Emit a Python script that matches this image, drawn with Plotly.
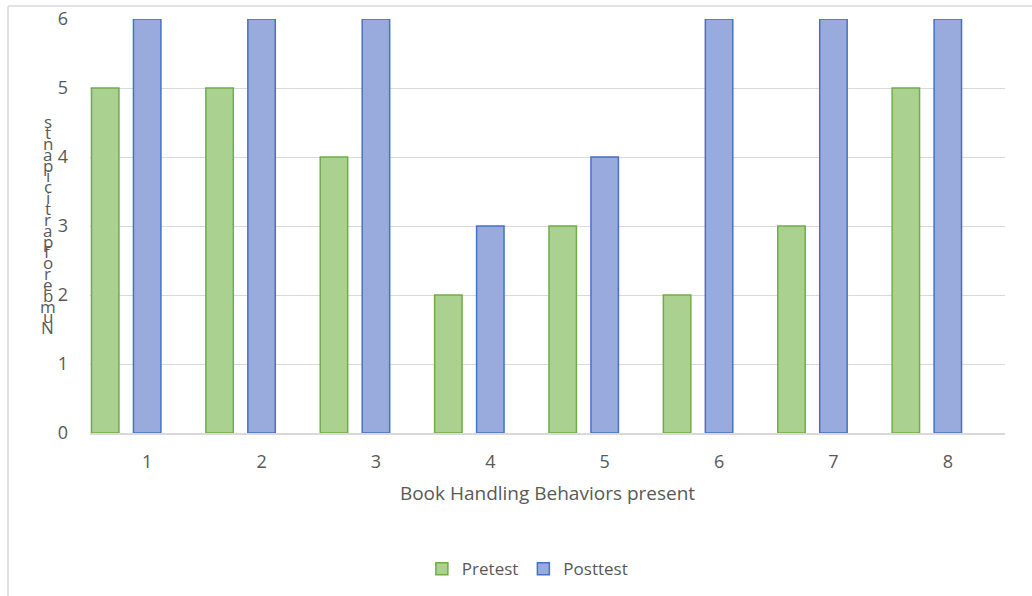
import plotly.graph_objects as go

categories = [1, 2, 3, 4, 5, 6, 7, 8]
pretest = [5, 5, 4, 2, 3, 2, 3, 5]
posttest = [6, 6, 6, 3, 4, 6, 6, 6]
y_ticks = [0, 1, 2, 3, 4, 5, 6]
x_title = "Book Handling Behaviors present"
y_title = "Number of participants"

FONT = "Open Sans"
GRAY = "#595959"

fig = go.Figure()
fig.add_trace(go.Bar(
    x=categories, y=pretest, name="Pretest",
    width=0.24, offset=-0.487,
    marker=dict(color="#aad190", line=dict(color="#70ad47", width=1.5)),
))
fig.add_trace(go.Bar(
    x=categories, y=posttest, name="Posttest",
    width=0.24, offset=-0.12,
    marker=dict(color="#98abdc", line=dict(color="#4472c4", width=1.5)),
))

# stacked, reversed y-axis title letters (as in the reference)
letters = [c for c in reversed(y_title) if c != " "]
n = len(letters)
top, bottom = 0.752, 0.254
for i, ch in enumerate(letters):
    fig.add_annotation(
        text=ch, xref="paper", yref="paper",
        x=-0.046, y=top - (top - bottom) * i / (n - 1),
        xanchor="center", yanchor="middle", showarrow=False,
        font=dict(family=FONT, size=17, color=GRAY),
    )

# outer chart frame (left and top edges visible)
fig.add_shape(type="line", xref="paper", yref="paper",
              x0=-0.0896, x1=-0.0896, y0=1.0314, y1=-0.45,
              line=dict(color="#d9d9d9", width=1.5))
fig.add_shape(type="line", xref="paper", yref="paper",
              x0=-0.0896, x1=1.05, y0=1.0314, y1=1.0314,
              line=dict(color="#d9d9d9", width=1.5))

fig.update_layout(
    width=1032, height=596,
    margin=dict(l=90, r=27, t=19, b=163, autoexpand=False),
    paper_bgcolor="white", plot_bgcolor="white",
    font=dict(family=FONT, color=GRAY, size=17),
    showlegend=True,
    legend=dict(orientation="h", x=0.478, xanchor="center", y=-0.329, yanchor="middle",
                font=dict(family=FONT, size=17, color=GRAY), traceorder="normal"),
    xaxis=dict(range=[0.5, 8.5], tickvals=categories, ticktext=[str(c) for c in categories],
               showgrid=False, showline=True, linecolor="#d9d9d9", linewidth=1.5,
               ticks="", ticklabelstandoff=12, automargin=False,
               tickfont=dict(family=FONT, size=18, color=GRAY),
               title=dict(text=x_title, standoff=14,
                          font=dict(family=FONT, size=19, color=GRAY))),
    yaxis=dict(range=[0, 6], tickvals=y_ticks, showgrid=True, gridcolor="#d9d9d9",
               gridwidth=1.3, zeroline=False, showline=False, ticks="",
               ticklabelstandoff=21, automargin=False,
               tickfont=dict(family=FONT, size=18, color=GRAY)),
)

fig.write_html("out.html")
